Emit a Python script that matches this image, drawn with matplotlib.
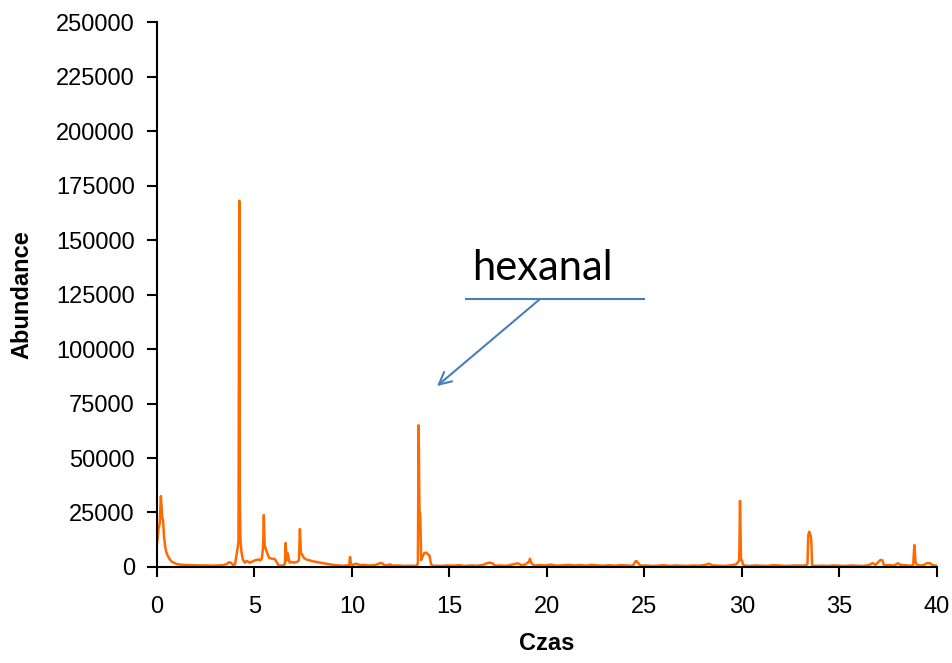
import numpy as np
import matplotlib.pyplot as plt
from matplotlib.ticker import FuncFormatter

# retention time (min) and abundance
time = [
    0.0, 0.08, 0.14, 0.2, 0.27, 0.31, 0.36, 0.42, 0.47, 0.55, 0.65, 0.75, 0.9, 1.05,
    1.3, 1.6, 1.9, 2.2, 2.5, 2.8, 3.1, 3.4, 3.6, 3.7, 3.8, 3.9, 4.0, 4.08,
    4.14, 4.18, 4.22, 4.25, 4.28, 4.33, 4.4, 4.5, 4.6, 4.75, 4.9, 5.0,
    5.1, 5.2, 5.3, 5.38, 5.44, 5.48, 5.52, 5.57, 5.65, 5.75, 5.9, 6.05, 6.15, 6.25, 6.4, 6.5,
    6.56, 6.6, 6.64, 6.7, 6.8, 6.9, 7.05, 7.2, 7.28, 7.33, 7.38, 7.45, 7.55, 7.7, 7.85,
    8.0, 8.2, 8.4, 8.55,
    8.8, 9.0, 9.2, 9.5, 9.75, 9.86, 9.9, 9.95, 10.05, 10.2, 10.4, 10.6, 10.9, 11.2,
    11.45, 11.55, 11.65, 11.8, 11.95, 12.1, 12.4, 12.7, 13.0, 13.2, 13.34,
    13.38, 13.42, 13.46, 13.5, 13.55, 13.62, 13.7, 13.8, 13.9, 13.98, 14.05, 14.12,
    14.3, 14.6, 14.9, 15.2, 15.5, 15.8, 16.1, 16.4, 16.7, 16.95, 17.05, 17.2, 17.35,
    17.6, 17.9, 18.2, 18.5, 18.7, 18.9, 19.08, 19.13, 19.2, 19.35, 19.6, 19.9, 20.2,
    20.5, 20.8, 21.1, 21.4, 21.7, 22.0, 22.3, 22.6, 22.9, 23.2, 23.5, 23.8, 24.1, 24.4,
    24.55, 24.62, 24.75, 24.85, 25.1, 25.4, 25.7, 26.0, 26.3, 26.6, 26.9, 27.2, 27.5,
    27.8, 28.1, 28.3, 28.5, 28.8, 29.1, 29.4, 29.7, 29.82,
    29.86, 29.9, 29.95, 30.0, 30.05, 30.15, 30.4, 30.7, 31.0, 31.3, 31.6, 31.9, 32.2,
    32.5, 32.8, 33.1, 33.3,
    33.36, 33.4, 33.45, 33.5, 33.55, 33.6, 33.8, 34.1, 34.4, 34.7, 35.0, 35.3, 35.6,
    35.9, 36.2, 36.5, 36.7, 36.85,
    37.05, 37.1, 37.2, 37.28, 37.5, 37.8, 38.0, 38.15, 38.4, 38.6, 38.78, 38.84, 38.9,
    38.95, 39.1, 39.3, 39.5, 39.65, 39.8, 40.0,
]
abundance = [
    10500, 17500, 20000, 32500, 22500, 21500, 14000, 9500, 7000, 5200, 3600, 2500, 1800, 1300,
    1000, 900, 800, 700, 750, 600, 700, 800, 1500, 2200, 1900, 900, 1200, 5500,
    9000, 12000, 168000, 30000, 12500, 7000, 3500, 2000, 2800, 2000, 2500, 3000,
    3200, 3500, 3000, 4000, 9000, 23800, 10000, 8500, 6400, 4200, 3800, 3600, 2000, 700, 600, 800,
    1500, 11000, 3000, 6400, 2000, 2300, 2000, 2400, 3000, 17400, 6600, 5500, 4000, 3300, 3000,
    2600, 2300, 1900, 1700,
    1300, 1000, 800, 600, 700, 900, 4600, 1200, 1000, 1500, 900, 1000, 700, 900,
    1800, 1700, 900, 700, 1200, 600, 700, 500, 600, 500, 700,
    2000, 65000, 26000, 24000, 3200, 4800, 6300, 6600, 5800, 5200, 1500, 500,
    600, 500, 700, 600, 800, 500, 700, 600, 900, 1800, 2000, 1700, 600,
    700, 500, 1100, 1700, 800, 1200, 2500, 3800, 1800, 600, 900, 700, 1100,
    600, 800, 1000, 700, 900, 600, 1000, 700, 600, 800, 600, 900, 700, 600,
    2700, 2500, 1000, 600, 700, 500, 600, 800, 500, 700, 600, 500, 700,
    600, 900, 1500, 700, 600, 500, 700, 1200, 2500,
    3000, 30300, 3500, 3000, 1200, 600, 500, 700, 600, 500, 800, 700, 500,
    600, 700, 600, 800,
    1500, 14500, 16200, 15000, 13100, 700, 500, 600, 500, 700, 600, 500, 700,
    600, 500, 800, 1800, 900,
    2800, 3200, 3100, 800, 900, 700, 1700, 900, 800, 600, 800, 10100, 2500,
    1200, 700, 800, 1800, 1700, 700, 600,
]

x_ticks = [0, 5, 10, 15, 20, 25, 30, 35, 40]
y_ticks = [0, 25000, 50000, 75000, 100000, 125000, 150000, 175000, 200000, 225000, 250000]

plt.rcParams['font.family'] = ['Liberation Sans', 'DejaVu Sans']

fig = plt.figure(figsize=(9.52, 6.63), dpi=100)
ax = fig.add_axes([0.1649, 0.1448, 0.8193, 0.822])

ax.plot(time, abundance, color='#FF6A00', linewidth=1.8)

ax.set_xlim(0, 40)
ax.set_ylim(0, 250000)
ax.set_xticks(x_ticks)
ax.set_yticks(y_ticks)
ax.yaxis.set_major_formatter(FuncFormatter(lambda v, p: "%d" % v))
ax.tick_params(axis='both', labelsize=17, direction='out', length=7, width=1.5, color='black')
ax.tick_params(axis='x', pad=14)
ax.tick_params(axis='y', pad=9)
for s in ['top', 'right']:
    ax.spines[s].set_visible(False)
for s in ['left', 'bottom']:
    ax.spines[s].set_linewidth(1.5)

ax.set_xlabel("Czas", fontsize=17, fontweight='bold')
ax.set_ylabel("Abundance", fontsize=17, fontweight='bold')
ax.xaxis.set_label_coords(0.5, -0.12)
ax.yaxis.set_label_coords(-0.158, 0.5)

# hexanal callout
blue = '#4A7EBB'
ax.plot([15.85, 25.0], [122900, 122900], color=blue, linewidth=1.5, clip_on=False)
ax.annotate("", xy=(14.36, 83000), xytext=(19.64, 122900),
            arrowprops=dict(arrowstyle='->', color=blue, lw=1.5, mutation_scale=22,
                            shrinkA=0, shrinkB=0))
ax.text(16.15, 131700, "hexanal", fontsize=30, family=['Lato', 'DejaVu Sans'],
        va='baseline', ha='left')

fig.savefig("out.png", dpi=100)
